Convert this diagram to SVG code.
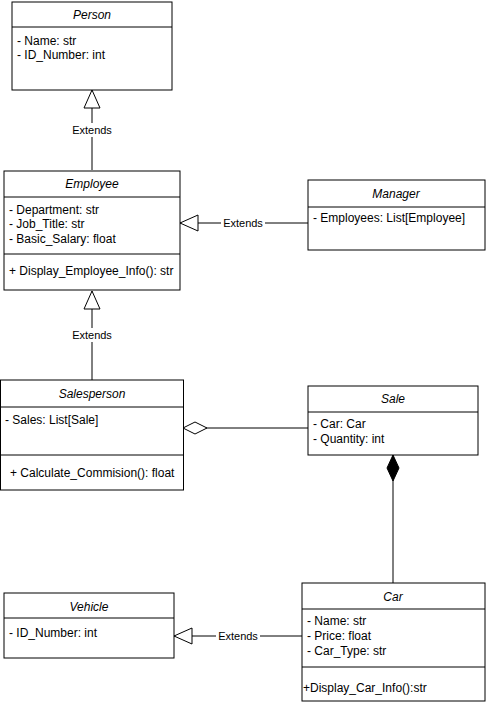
<svg xmlns="http://www.w3.org/2000/svg" width="486" height="702" viewBox="0 0 486 702">
<style>
.box{fill:#fff;stroke:#000;stroke-width:1}
.ln{stroke:#000;stroke-width:1;fill:none}
text{font-family:"Liberation Sans",Arial,sans-serif;font-size:12px;fill:#000}
.t{font-style:italic;text-anchor:middle}
.lbl{font-size:11px;text-anchor:middle}
.lb{fill:#fff}
</style>
<defs>
<marker id="tri" viewBox="0 0 20 18" refX="19" refY="9" markerWidth="20" markerHeight="18" markerUnits="userSpaceOnUse" orient="auto">
<path d="M1,1 L19,9 L1,17 Z" fill="#fff" stroke="#000" stroke-width="1"/>
</marker>
<marker id="odia" viewBox="0 0 26 14" refX="25" refY="7" markerWidth="26" markerHeight="14" markerUnits="userSpaceOnUse" orient="auto">
<path d="M1,7 L13,1 L25,7 L13,13 Z" fill="#fff" stroke="#000" stroke-width="1"/>
</marker>
<marker id="fdia" viewBox="0 0 28 14" refX="27" refY="7" markerWidth="28" markerHeight="14" markerUnits="userSpaceOnUse" orient="auto">
<path d="M1,7 L14,1 L27,7 L14,13 Z" fill="#000" stroke="#000" stroke-width="1"/>
</marker>
</defs>
<g id="connectors">
<path class="ln" d="M92,170 L92,90" marker-end="url(#tri)"/>
<rect class="lb" x="70" y="123" width="44" height="14"/>
<text class="lbl" x="92" y="134">Extends</text>
<path class="ln" d="M308,223 L180,223" marker-end="url(#tri)"/>
<rect class="lb" x="221" y="216" width="44" height="14"/>
<text class="lbl" x="243" y="227">Extends</text>
<path class="ln" d="M92,380 L92,291" marker-end="url(#tri)"/>
<rect class="lb" x="70" y="328" width="44" height="14"/>
<text class="lbl" x="92" y="339">Extends</text>
<path class="ln" d="M308,428 L183,428" marker-end="url(#odia)"/>
<path class="ln" d="M393,583 L393,455" marker-end="url(#fdia)"/>
<path class="ln" d="M302,636 L174,636" marker-end="url(#tri)"/>
<rect class="lb" x="216" y="629" width="44" height="14"/>
<text class="lbl" x="238" y="640">Extends</text>
</g>
<g id="person">
<rect class="box" x="12" y="2" width="160" height="88"/>
<line class="ln" x1="12" y1="27" x2="172" y2="27"/>
<text class="t" x="92" y="19">Person</text>
<text x="17" y="45">- Name: str</text>
<text x="17" y="59">- ID_Number: int</text>
</g>
<g id="employee">
<rect class="box" x="4" y="171" width="176" height="119"/>
<line class="ln" x1="4" y1="197" x2="180" y2="197"/>
<line class="ln" x1="4" y1="254" x2="180" y2="254"/>
<text class="t" x="92" y="188">Employee</text>
<text x="9" y="214">- Department: str</text>
<text x="9" y="228">- Job_Title: str</text>
<text x="9" y="243">- Basic_Salary: float</text>
<text x="9" y="275">+ Display_Employee_Info(): str</text>
</g>
<g id="manager">
<rect class="box" x="308" y="180" width="177" height="70"/>
<line class="ln" x1="308" y1="207" x2="485" y2="207"/>
<text class="t" x="396" y="198">Manager</text>
<text x="313" y="222">- Employees: List[Employee]</text>
</g>
<g id="salesperson">
<rect class="box" x="0.5" y="380" width="183" height="110"/>
<line class="ln" x1="0.5" y1="407" x2="183.5" y2="407"/>
<line class="ln" x1="0.5" y1="455" x2="183.5" y2="455"/>
<text class="t" x="92" y="398">Salesperson</text>
<text x="5" y="424">- Sales: List[Sale]</text>
<text x="10" y="477">+ Calculate_Commision(): float</text>
</g>
<g id="sale">
<rect class="box" x="308" y="386" width="170" height="69"/>
<line class="ln" x1="308" y1="412" x2="478" y2="412"/>
<text class="t" x="393" y="403">Sale</text>
<text x="313" y="428">- Car: Car</text>
<text x="313" y="443">- Quantity: int</text>
</g>
<g id="vehicle">
<rect class="box" x="4" y="593" width="170" height="65"/>
<line class="ln" x1="4" y1="618" x2="174" y2="618"/>
<text class="t" x="89" y="611">Vehicle</text>
<text x="9" y="637">- ID_Number: int</text>
</g>
<g id="car">
<rect class="box" x="302" y="583" width="183" height="118"/>
<line class="ln" x1="302" y1="609" x2="485" y2="609"/>
<line class="ln" x1="302" y1="667" x2="485" y2="667"/>
<text class="t" x="393" y="601">Car</text>
<text x="307" y="625">- Name: str</text>
<text x="307" y="640">- Price: float</text>
<text x="307" y="655">- Car_Type: str</text>
<text x="303" y="692">+Display_Car_Info():str</text>
</g>
</svg>
